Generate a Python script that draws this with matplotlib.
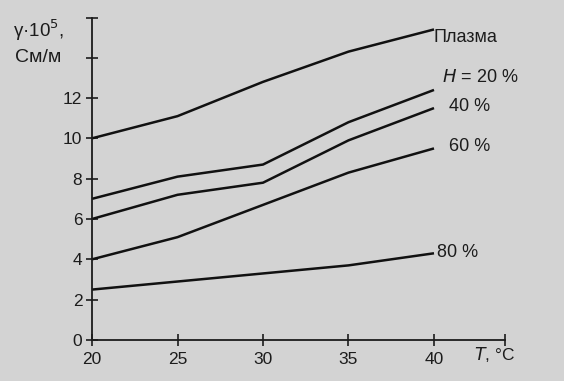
import matplotlib
matplotlib.use("Agg")
import matplotlib.pyplot as plt

plt.rcParams['font.family'] = ['Liberation Sans', 'DejaVu Sans']

T = [20, 25, 30, 35, 40]
plasma = [10.0, 11.1, 12.8, 14.3, 15.4]
h20 = [7.0, 8.1, 8.7, 10.8, 12.4]
h40 = [6.0, 7.2, 7.8, 9.9, 11.5]
h60 = [4.0, 5.1, 6.7, 8.3, 9.5]
h80 = [2.5, 2.9, 3.3, 3.7, 4.3]
yticks = [0, 2, 4, 6, 8, 10, 12, 14]
ytick_labels = ['0', '2', '4', '6', '8', '10', '12', '']
xticks = [20, 25, 30, 35, 40]

bg = '#d3d3d3'
ink = '#1c1c1c'
fig = plt.figure(figsize=(5.64, 3.81), dpi=100, facecolor=bg)
ax = fig.add_axes([92/564, 1-340/381, (505-92)/564, (340-18)/381])
ax.set_facecolor(bg)
xmax = 20 + (505-92)/((434-92)/20)
ymax = (340-18)/((340-98)/12)
ax.set_xlim(20, xmax)
ax.set_ylim(0, ymax)

for s in ['top', 'right']:
    ax.spines[s].set_visible(False)
for s in ['left', 'bottom']:
    ax.spines[s].set_linewidth(1.3)
    ax.spines[s].set_color(ink)

lw = 1.8
for series in [plasma, h20, h40, h60, h80]:
    ax.plot(T, series, color='#111111', lw=lw, solid_capstyle='butt', clip_on=False)

ax.set_xticks(xticks)
ax.set_yticks(yticks)
ax.set_yticklabels(ytick_labels)
ax.tick_params(direction='inout', length=8, width=1.2, labelsize=12.5, colors=ink, pad=3)
ax.tick_params(axis='x', pad=5)

# end caps of axes
ax.plot([xmax], [0], marker='|', ms=9, mew=1.2, color=ink, clip_on=False)
ax.plot([20], [ymax], marker='_', ms=9, mew=1.2, color=ink, clip_on=False)

kw = dict(fontsize=13, color=ink, va='center', ha='left')
ax.text(40.0, 15.0, 'Плазма', **kw)
ax.text(40.45, 13.0, '$H$ = 20 %', **kw)
ax.text(40.9, 11.6, '40 %', **kw)
ax.text(40.9, 9.6, '60 %', **kw)
ax.text(40.2, 4.35, '80 %', **kw)

fig.text(13/564, 1-30/381, 'γ·10$^5$,', fontsize=13.5, color=ink, va='center', ha='left')
fig.text(15/564, 1-57/381, 'См/м', fontsize=14, color=ink, va='center', ha='left')
fig.text(474/564, 1-355/381, '$T$, °C', fontsize=12.5, color=ink, va='center', ha='left')

fig.savefig('out.png', dpi=100, facecolor=bg)
